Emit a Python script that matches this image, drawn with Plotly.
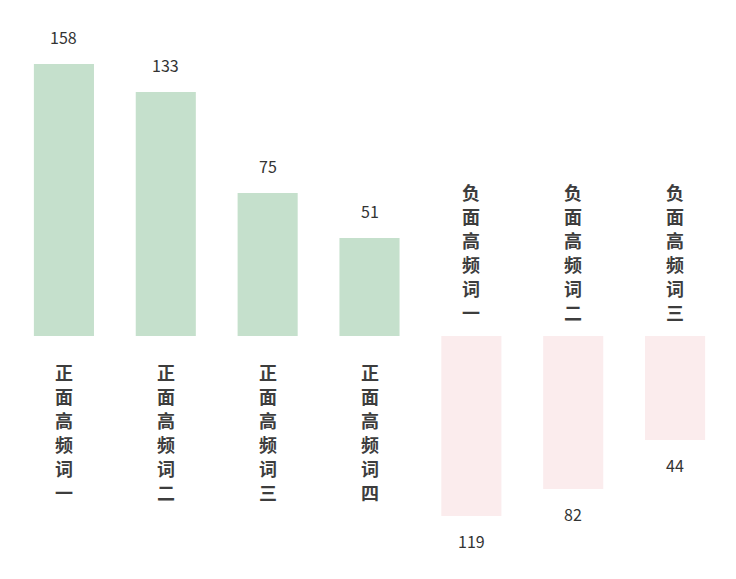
import plotly.graph_objects as go

categories = ["正面高频词一", "正面高频词二", "正面高频词三", "正面高频词四",
              "负面高频词一", "负面高频词二", "负面高频词三"]
counts = [158, 133, 75, 51, 119, 82, 44]
# bar lengths as drawn in the picture (positive up, negative down)
bar_lengths = [272, 244, 143, 98, -180, -153, -104]
bar_colors = ["#c5e0cc"] * 4 + ["#fbeced"] * 3

fig = go.Figure()
fig.add_trace(go.Bar(
    x=list(range(len(categories))), y=bar_lengths,
    marker=dict(color=bar_colors, line=dict(width=0)),
    width=0.59, hoverinfo="skip",
))

num_font = dict(family="Noto Sans CJK SC", size=16, color="#333333")
cat_font = dict(family="Noto Sans CJK SC", size=18, color="#3d3d3d")
pitch = 24

for i, (cat, c, v) in enumerate(zip(categories, counts, bar_lengths)):
    chars = list(cat)
    n = len(chars)
    if v >= 0:
        fig.add_annotation(x=i, y=v, text=str(c), showarrow=False,
                           yanchor="middle", yshift=27, font=num_font)
        for k, ch in enumerate(chars):
            fig.add_annotation(x=i, y=0, text="<b>" + ch + "</b>", showarrow=False,
                               yanchor="middle", yshift=-(36 + pitch * k), font=cat_font,
                               borderpad=0)
    else:
        fig.add_annotation(x=i, y=v, text=str(c), showarrow=False,
                           yanchor="middle", yshift=-25, font=num_font)
        for k, ch in enumerate(chars):
            fig.add_annotation(x=i, y=0, text="<b>" + ch + "</b>", showarrow=False,
                               yanchor="middle", yshift=24 + pitch * (n - 1 - k), font=cat_font,
                               borderpad=0)

fig.update_layout(
    width=736, height=579,
    margin=dict(l=5, r=18, t=0, b=0),
    plot_bgcolor="white", paper_bgcolor="white",
    showlegend=False,
    xaxis=dict(range=[-0.5, 6.5], visible=False),
    yaxis=dict(range=[-251, 328], visible=False),
)

fig.write_html("out.html")
